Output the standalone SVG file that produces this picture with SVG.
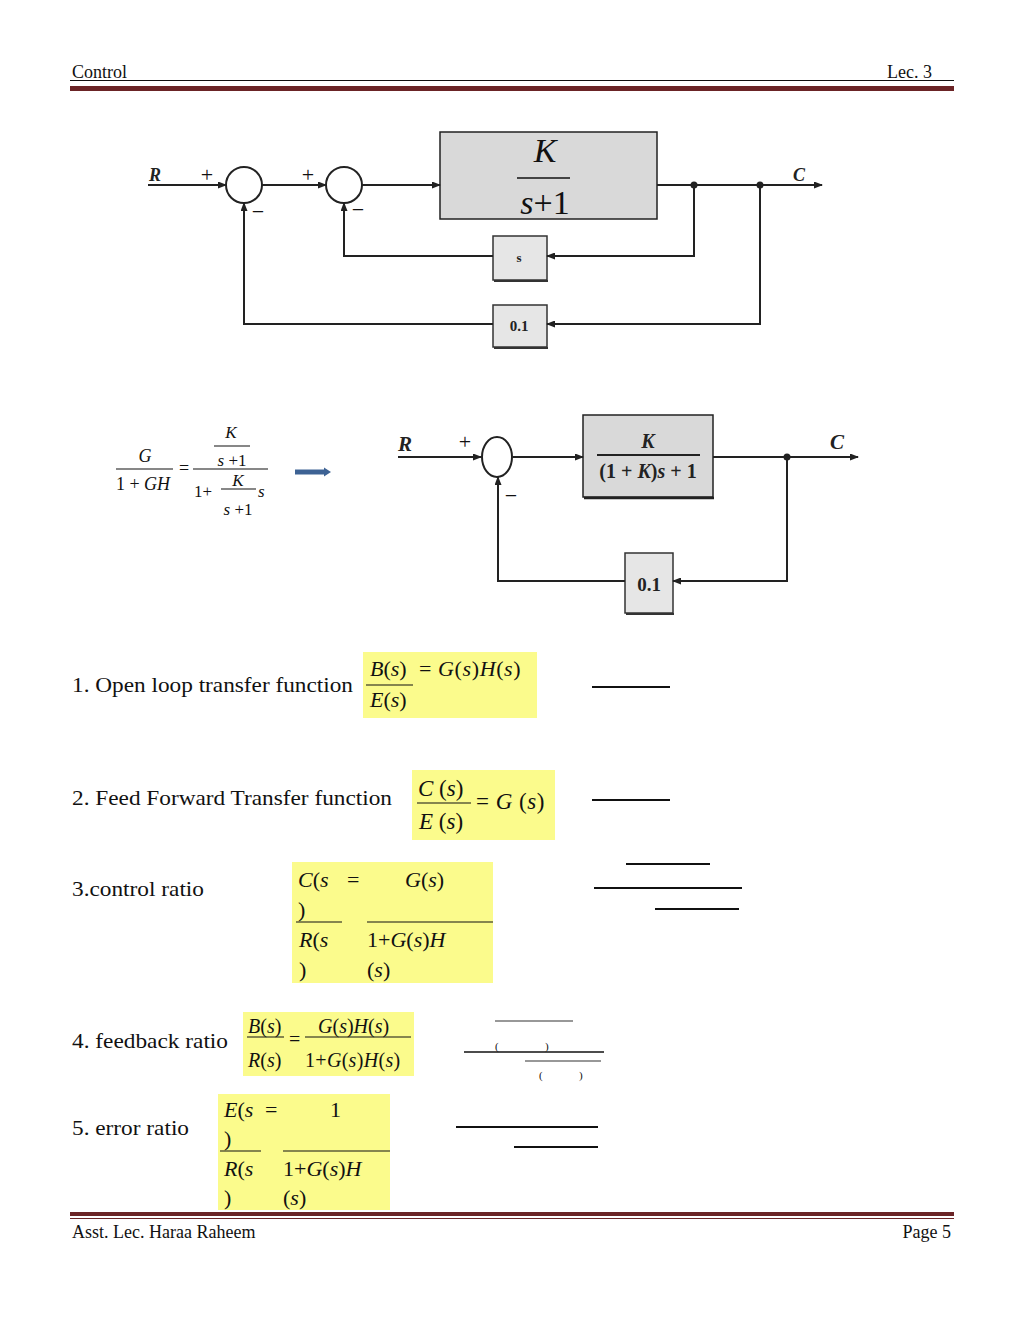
<svg xmlns="http://www.w3.org/2000/svg" width="1024" height="1325" viewBox="0 0 1024 1325">
<style>
.hdr{font-family:"Liberation Serif","DejaVu Serif",serif;font-size:18px;fill:#111}
.lbl{font-family:"Liberation Serif","Times New Roman",serif;font-size:21px;fill:#111}
.m{font-family:"Liberation Serif","Times New Roman",serif;font-style:italic;fill:#111}
.r{font-family:"Liberation Serif","Times New Roman",serif;fill:#111}
.bd{font-family:"Liberation Serif","Times New Roman",serif;font-weight:bold;fill:#222}
.ln{stroke:#222;stroke-width:2;fill:none}
.fl{stroke:#111;stroke-width:1.2}
.yb{fill:#fbfb8c}
.sb{fill:#e6e6e6;stroke:#333;stroke-width:1.5}
</style>
<defs>
<marker id="ah" markerWidth="9" markerHeight="7" refX="8" refY="3.5" orient="auto" markerUnits="userSpaceOnUse">
<path d="M0,0 L9,3.5 L0,7 Z" fill="#222"/>
</marker>
</defs>
<rect width="1024" height="1325" fill="#fff"/>

<g id="header">
<text class="hdr" x="72" y="78">Control</text>
<text class="hdr" x="932" y="78" text-anchor="end">Lec. 3</text>
<line x1="70" y1="80.5" x2="954" y2="80.5" stroke="#111" stroke-width="1.2"/>
<rect x="70" y="86" width="884" height="5" fill="#6b2426"/>
</g>

<!-- Diagram 1 -->
<g id="d1-sum1"><circle cx="244" cy="185" r="18" fill="#fff" stroke="#222" stroke-width="2"/></g>
<g id="d1-sum2"><circle cx="344" cy="185" r="18" fill="#fff" stroke="#222" stroke-width="2"/></g>
<g id="d1-G">
<rect x="440" y="132" width="217" height="87" fill="#d9d9d9" stroke="#222" stroke-width="1.5"/>
<text class="m" x="545" y="162" font-size="34" text-anchor="middle">K</text>
<line x1="517" y1="178" x2="570" y2="178" stroke="#111" stroke-width="1.5"/>
<text class="m" x="545" y="214" font-size="34" text-anchor="middle">s<tspan font-style="normal">+1</tspan></text>
</g>
<g id="d1-s">
<rect x="493" y="236" width="54" height="44" class="sb"/>
<line x1="494" y1="281" x2="548" y2="281" stroke="#333" stroke-width="2"/>
<text class="bd" x="519" y="262" font-size="13" text-anchor="middle">s</text>
</g>
<g id="d1-01">
<rect x="493" y="305" width="54" height="42" class="sb"/>
<line x1="494" y1="348" x2="548" y2="348" stroke="#333" stroke-width="2"/>
<text class="bd" x="519" y="331" font-size="15" text-anchor="middle">0.1</text>
</g>
<g id="d1-labels">
<text class="bd" x="149" y="181" font-size="18" font-style="italic">R</text>
<text class="bd" x="793" y="181" font-size="18" font-style="italic">C</text>
<text class="r" x="207" y="182" font-size="22" text-anchor="middle">+</text>
<text class="r" x="308" y="182" font-size="22" text-anchor="middle">+</text>
<text class="r" x="258" y="219" font-size="22" text-anchor="middle">−</text>
<text class="r" x="358" y="217" font-size="22" text-anchor="middle">−</text>
</g>
<g id="d1-connectors">
<line class="ln" x1="148" y1="185" x2="226" y2="185" marker-end="url(#ah)"/>
<line class="ln" x1="262" y1="185" x2="326" y2="185" marker-end="url(#ah)"/>
<line class="ln" x1="362" y1="185" x2="440" y2="185" marker-end="url(#ah)"/>
<line class="ln" x1="657" y1="185" x2="822" y2="185" marker-end="url(#ah)"/>
<polyline class="ln" points="694,185 694,256 547,256" marker-end="url(#ah)"/>
<polyline class="ln" points="493,256 344,256 344,203" marker-end="url(#ah)"/>
<polyline class="ln" points="760,185 760,324 547,324" marker-end="url(#ah)"/>
<polyline class="ln" points="493,324 244,324 244,203" marker-end="url(#ah)"/>
<circle cx="694" cy="185" r="3.5" fill="#222"/>
<circle cx="760" cy="185" r="3.5" fill="#222"/>
</g>

<!-- Formula -->
<g id="formula">
<text class="m" x="145" y="462" font-size="18" text-anchor="middle">G</text>
<line class="fl" x1="116" y1="469" x2="173" y2="469"/>
<text class="r" x="143" y="490" font-size="18" text-anchor="middle">1 + <tspan font-style="italic">GH</tspan></text>
<text class="r" x="184" y="474" font-size="18" text-anchor="middle">=</text>
<text class="m" x="231" y="438" font-size="17" text-anchor="middle">K</text>
<line class="fl" x1="214" y1="446" x2="250" y2="446"/>
<text class="m" x="232" y="466" font-size="17" text-anchor="middle">s<tspan font-style="normal"> +1</tspan></text>
<line class="fl" x1="193" y1="469" x2="268" y2="469"/>
<text class="r" x="194" y="497" font-size="17">1+</text>
<text class="m" x="238" y="486" font-size="17" text-anchor="middle">K</text>
<line class="fl" x1="221" y1="489" x2="256" y2="489"/>
<text class="m" x="238" y="515" font-size="17" text-anchor="middle">s<tspan font-style="normal"> +1</tspan></text>
<text class="m" x="258" y="497" font-size="17">s</text>
</g>
<g id="blue-arrow">
<line x1="295" y1="472" x2="326" y2="472" stroke="#3d6294" stroke-width="5"/>
<path d="M324,467.5 L331,472 L324,476.5 Z" fill="#3d6294"/>
</g>

<!-- Diagram 2 -->
<g id="d2-sum"><ellipse cx="497" cy="457" rx="15" ry="20" fill="#fff" stroke="#222" stroke-width="2"/></g>
<g id="d2-G">
<rect x="583" y="415" width="130" height="82" fill="#d9d9d9" stroke="#222" stroke-width="1.5"/>
<line x1="584" y1="498" x2="714" y2="498" stroke="#222" stroke-width="2.5"/>
<text class="bd" x="648" y="448" font-size="20" text-anchor="middle" font-style="italic">K</text>
<line x1="597" y1="455" x2="700" y2="455" stroke="#222" stroke-width="1.8"/>
<text class="bd" x="648" y="478" font-size="20" text-anchor="middle">(1 + <tspan font-style="italic">K</tspan>)<tspan font-style="italic">s</tspan> + 1</text>
</g>
<g id="d2-01">
<rect x="625" y="553" width="48" height="60" class="sb"/>
<line x1="626" y1="614" x2="674" y2="614" stroke="#333" stroke-width="2"/>
<text class="bd" x="649" y="591" font-size="19" text-anchor="middle">0.1</text>
</g>
<g id="d2-labels">
<text class="bd" x="398" y="451" font-size="21" font-style="italic">R</text>
<text class="bd" x="830" y="449" font-size="21" font-style="italic">C</text>
<text class="r" x="465" y="449" font-size="22" text-anchor="middle">+</text>
<text class="r" x="511" y="503" font-size="22" text-anchor="middle">−</text>
</g>
<g id="d2-connectors">
<line class="ln" x1="398" y1="457" x2="481" y2="457" marker-end="url(#ah)"/>
<line class="ln" x1="513" y1="457" x2="583" y2="457" marker-end="url(#ah)"/>
<line class="ln" x1="713" y1="457" x2="858" y2="457" marker-end="url(#ah)"/>
<polyline class="ln" points="787,457 787,581 673,581" marker-end="url(#ah)"/>
<polyline class="ln" points="625,581 498,581 498,477" marker-end="url(#ah)"/>
<circle cx="787" cy="457" r="3.5" fill="#222"/>
</g>

<!-- 1 -->
<g id="item1">
<text class="lbl" x="72" y="692" textLength="281" lengthAdjust="spacingAndGlyphs">1. Open loop transfer function</text>
<rect class="yb" x="363" y="652" width="174" height="66"/>
<text class="m" x="370" y="676" font-size="22">B<tspan font-style="normal">(</tspan>s<tspan font-style="normal">)</tspan></text>
<line class="fl" x1="366" y1="685" x2="413" y2="685"/>
<text class="m" x="370" y="707" font-size="22">E<tspan font-style="normal">(</tspan>s<tspan font-style="normal">)</tspan></text>
<text class="m" x="419" y="676" font-size="22" letter-spacing="0.6"><tspan font-style="normal">=</tspan> G<tspan font-style="normal">(</tspan>s<tspan font-style="normal">)</tspan>H<tspan font-style="normal">(</tspan>s<tspan font-style="normal">)</tspan></text>
<line x1="592" y1="687" x2="670" y2="687" stroke="#111" stroke-width="2"/>
</g>

<!-- 2 -->
<g id="item2">
<text class="lbl" x="72" y="805" textLength="320" lengthAdjust="spacingAndGlyphs">2. Feed Forward Transfer function</text>
<rect class="yb" x="412" y="770" width="143" height="70"/>
<text class="m" x="418" y="796" font-size="23">C<tspan font-style="normal"> (</tspan>s<tspan font-style="normal">)</tspan></text>
<line class="fl" x1="417" y1="803" x2="471" y2="803"/>
<text class="m" x="419" y="829" font-size="23">E<tspan font-style="normal"> (</tspan>s<tspan font-style="normal">)</tspan></text>
<text class="m" x="476" y="809" font-size="23" letter-spacing="0.5"><tspan font-style="normal">=</tspan> G<tspan font-style="normal"> (</tspan>s<tspan font-style="normal">)</tspan></text>
<line x1="592" y1="800" x2="670" y2="800" stroke="#111" stroke-width="2"/>
</g>

<!-- 3 -->
<g id="item3">
<text class="lbl" x="72" y="896" textLength="132" lengthAdjust="spacingAndGlyphs">3.control ratio</text>
<rect class="yb" x="292" y="862" width="201" height="121"/>
<text class="m" x="298" y="887" font-size="22">C<tspan font-style="normal">(</tspan>s</text>
<text class="r" x="347" y="887" font-size="22">=</text>
<text class="m" x="405" y="887" font-size="22">G<tspan font-style="normal">(</tspan>s<tspan font-style="normal">)</tspan></text>
<text class="r" x="298" y="917" font-size="22">)</text>
<line class="fl" x1="296" y1="922" x2="342" y2="922"/>
<line class="fl" x1="367" y1="922" x2="493" y2="922"/>
<text class="m" x="299" y="947" font-size="22">R<tspan font-style="normal">(</tspan>s</text>
<text class="m" x="367" y="947" font-size="22"><tspan font-style="normal">1+</tspan>G<tspan font-style="normal">(</tspan>s<tspan font-style="normal">)</tspan>H</text>
<text class="r" x="299" y="977" font-size="22">)</text>
<text class="m" x="367" y="977" font-size="22"><tspan font-style="normal">(</tspan>s<tspan font-style="normal">)</tspan></text>
<line x1="626" y1="864" x2="710" y2="864" stroke="#111" stroke-width="1.8"/>
<line x1="594" y1="888" x2="742" y2="888" stroke="#111" stroke-width="2.2"/>
<line x1="655" y1="909" x2="739" y2="909" stroke="#111" stroke-width="1.8"/>
</g>

<!-- 4 -->
<g id="item4">
<text class="lbl" x="72" y="1048" textLength="156" lengthAdjust="spacingAndGlyphs">4. feedback ratio</text>
<rect class="yb" x="243" y="1012" width="171" height="64"/>
<text class="m" x="248" y="1033" font-size="20">B<tspan font-style="normal">(</tspan>s<tspan font-style="normal">)</tspan></text>
<line class="fl" x1="247" y1="1037" x2="284" y2="1037"/>
<text class="r" x="289" y="1046" font-size="20">=</text>
<text class="m" x="318" y="1033" font-size="20">G<tspan font-style="normal">(</tspan>s<tspan font-style="normal">)</tspan>H<tspan font-style="normal">(</tspan>s<tspan font-style="normal">)</tspan></text>
<line class="fl" x1="305" y1="1037" x2="411" y2="1037"/>
<text class="m" x="248" y="1067" font-size="20">R<tspan font-style="normal">(</tspan>s<tspan font-style="normal">)</tspan></text>
<text class="m" x="305" y="1067" font-size="20" letter-spacing="0.3"><tspan font-style="normal">1+</tspan>G<tspan font-style="normal">(</tspan>s<tspan font-style="normal">)</tspan>H<tspan font-style="normal">(</tspan>s<tspan font-style="normal">)</tspan></text>
<line x1="495" y1="1021" x2="573" y2="1021" stroke="#333" stroke-width="1.2"/>
<line x1="464" y1="1052" x2="604" y2="1052" stroke="#111" stroke-width="1.5"/>
<text class="r" x="495" y="1050" font-size="11">(</text>
<text class="r" x="545" y="1050" font-size="11">)</text>
<line x1="525" y1="1061" x2="601" y2="1061" stroke="#333" stroke-width="1.2"/>
<text class="r" x="539" y="1079" font-size="11">(</text>
<text class="r" x="579" y="1079" font-size="11">)</text>
</g>

<!-- 5 -->
<g id="item5">
<text class="lbl" x="72" y="1135" textLength="117" lengthAdjust="spacingAndGlyphs">5. error ratio</text>
<rect class="yb" x="218" y="1094" width="172" height="116"/>
<text class="m" x="224" y="1117" font-size="22">E<tspan font-style="normal">(</tspan>s</text>
<text class="r" x="265" y="1117" font-size="22">=</text>
<text class="r" x="330" y="1117" font-size="22">1</text>
<text class="r" x="224" y="1146" font-size="22">)</text>
<line class="fl" x1="220" y1="1151" x2="261" y2="1151"/>
<line class="fl" x1="283" y1="1151" x2="390" y2="1151"/>
<text class="m" x="224" y="1176" font-size="22">R<tspan font-style="normal">(</tspan>s</text>
<text class="m" x="283" y="1176" font-size="22"><tspan font-style="normal">1+</tspan>G<tspan font-style="normal">(</tspan>s<tspan font-style="normal">)</tspan>H</text>
<text class="r" x="224" y="1205" font-size="22">)</text>
<text class="m" x="283" y="1205" font-size="22"><tspan font-style="normal">(</tspan>s<tspan font-style="normal">)</tspan></text>
<line x1="456" y1="1127" x2="598" y2="1127" stroke="#111" stroke-width="2.2"/>
<line x1="514" y1="1147" x2="598" y2="1147" stroke="#111" stroke-width="1.8"/>
</g>

<g id="footer">
<rect x="70" y="1212" width="884" height="4" fill="#6b2426"/>
<line x1="70" y1="1218.5" x2="954" y2="1218.5" stroke="#6b2426" stroke-width="1"/>
<text class="hdr" x="72" y="1238">Asst. Lec. Haraa Raheem</text>
<text class="hdr" x="951" y="1238" text-anchor="end">Page 5</text>
</g>
</svg>
